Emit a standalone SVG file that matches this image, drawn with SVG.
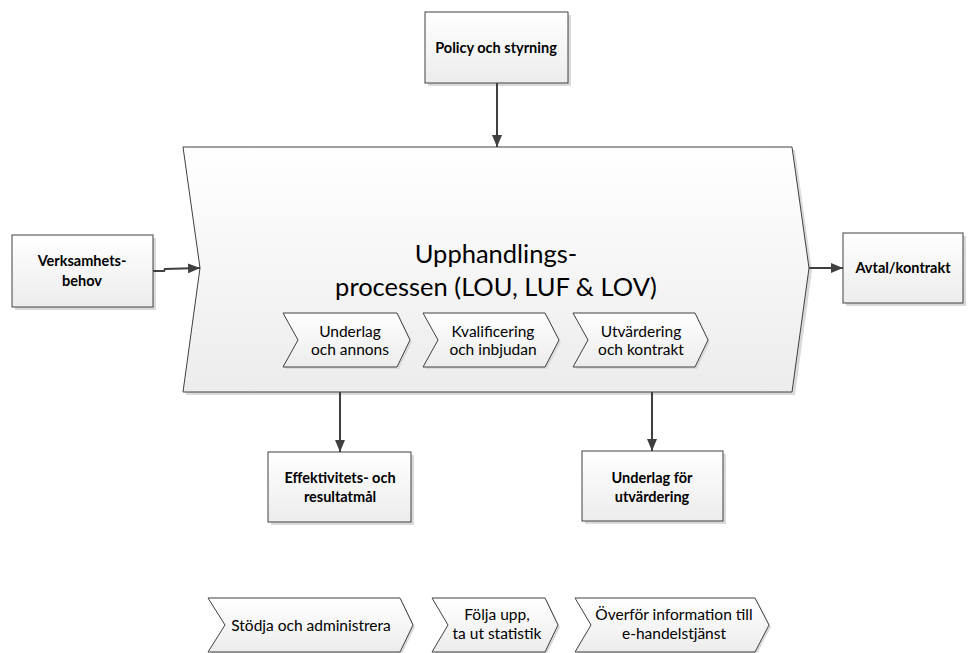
<svg xmlns="http://www.w3.org/2000/svg" width="975" height="653" viewBox="0 0 975 653">
  <defs>
    <linearGradient id="fillGrad" x1="0" y1="0" x2="0" y2="1">
      <stop offset="0" stop-color="#ffffff"/>
      <stop offset="1" stop-color="#ececec"/>
    </linearGradient>
    <marker id="arrow" viewBox="0 0 12 10" refX="12" refY="5" markerWidth="12" markerHeight="10" markerUnits="userSpaceOnUse" orient="auto">
      <path d="M0,0 L12,5 L0,10 z" fill="#404040"/>
    </marker>
  </defs>
  <style>
    .box { fill: url(#fillGrad); stroke: #404040; stroke-width: 1; }
    .shadow { fill: #dadada; stroke: none; }
    .lbl { font-family: Lato, "Liberation Sans", sans-serif; font-weight: bold; font-size: 14.5px; fill: #000; text-anchor: middle; }
    .step { font-family: Lato, "Liberation Sans", sans-serif; font-size: 15.5px; fill: #000; text-anchor: middle; }
    .title { font-family: Lato, "Liberation Sans", sans-serif; font-size: 25.5px; fill: #000; text-anchor: middle; }
    .conn { fill: none; stroke: #404040; stroke-width: 2; marker-end: url(#arrow); }
  </style>
  <rect width="975" height="653" fill="#ffffff"/>

  <!-- main process chevron -->
  <g id="process">
    <path class="shadow" d="M186,150 L795,150 L812,271 L795,395 L186,395 L203,271 Z"/>
    <path class="box" d="M183,147 L792,147 L809,268 L792,392 L183,392 L200,268 Z"/>
    <text class="title" x="496" y="263">Upphandlings-</text>
    <text class="title" x="496" y="296">processen (LOU, LUF &amp; LOV)</text>
  </g>

  <!-- process steps inside the chevron -->
  <g id="step-underlag">
    <path class="shadow" d="M285,315 L399,315 L412,342 L399,369 L285,369 L300,342 Z"/>
    <path class="box" d="M283,313 L397,313 L410,340 L397,367 L283,367 L298,340 Z"/>
    <text class="step" x="350" y="337">Underlag</text>
    <text class="step" x="350" y="355">och annons</text>
  </g>
  <g id="step-kvalificering">
    <path class="shadow" d="M425,315 L547,315 L561,342 L547,369 L425,369 L440,342 Z"/>
    <path class="box" d="M423,313 L545,313 L559,340 L545,367 L423,367 L438,340 Z"/>
    <text class="step" x="493" y="337">Kvalificering</text>
    <text class="step" x="493" y="355">och inbjudan</text>
  </g>
  <g id="step-utvardering">
    <path class="shadow" d="M575,315 L697,315 L710,342 L697,369 L575,369 L590,342 Z"/>
    <path class="box" d="M573,313 L695,313 L708,340 L695,367 L573,367 L588,340 Z"/>
    <text class="step" x="641" y="337">Utvärdering</text>
    <text class="step" x="641" y="355">och kontrakt</text>
  </g>

  <!-- input / output boxes -->
  <g id="policy">
    <rect class="shadow" x="428" y="15" width="143" height="71"/>
    <rect class="box" x="425" y="12" width="143" height="71"/>
    <text class="lbl" x="496" y="53">Policy och styrning</text>
  </g>
  <g id="verksamhetsbehov">
    <rect class="shadow" x="15" y="238" width="141" height="72"/>
    <rect class="box" x="12" y="235" width="141" height="72"/>
    <text class="lbl" x="82" y="266">Verksamhets-</text>
    <text class="lbl" x="82" y="286">behov</text>
  </g>
  <g id="avtal">
    <rect class="shadow" x="846" y="236" width="120" height="70"/>
    <rect class="box" x="843" y="233" width="120" height="70"/>
    <text class="lbl" x="903" y="273">Avtal/kontrakt</text>
  </g>
  <g id="effektivitet">
    <rect class="shadow" x="271" y="455" width="143" height="70"/>
    <rect class="box" x="268" y="452" width="143" height="70"/>
    <text class="lbl" x="340" y="483">Effektivitets- och</text>
    <text class="lbl" x="340" y="502">resultatmål</text>
  </g>
  <g id="underlag-utvardering">
    <rect class="shadow" x="585" y="454" width="141" height="70"/>
    <rect class="box" x="582" y="451" width="141" height="70"/>
    <text class="lbl" x="652" y="483">Underlag för</text>
    <text class="lbl" x="652" y="502">utvärdering</text>
  </g>

  <!-- support activities -->
  <g id="stodja">
    <path class="shadow" d="M210,600 L402,600 L415,627 L402,654 L210,654 L227,627 Z"/>
    <path class="box" d="M208,598 L400,598 L413,625 L400,652 L208,652 L225,625 Z"/>
    <text class="step" x="311" y="631">Stödja och administrera</text>
  </g>
  <g id="folja-upp">
    <path class="shadow" d="M434,600 L547,600 L560,627 L547,654 L434,654 L450,627 Z"/>
    <path class="box" d="M432,598 L545,598 L558,625 L545,652 L432,652 L448,625 Z"/>
    <text class="step" x="497" y="620">Följa upp,</text>
    <text class="step" x="497" y="639">ta ut statistik</text>
  </g>
  <g id="overfor">
    <path class="shadow" d="M577,600 L757,600 L771,627 L757,654 L577,654 L593,627 Z"/>
    <path class="box" d="M575,598 L755,598 L769,625 L755,652 L575,652 L591,625 Z"/>
    <text class="step" x="674" y="620">Överför information till</text>
    <text class="step" x="674" y="639">e-handelstjänst</text>
  </g>

  <!-- connectors -->
  <g id="connectors">
    <path class="conn" d="M497,83 L497,147"/>
    <path class="conn" d="M153,271 L164,271 L165,269 L200,268"/>
    <path class="conn" d="M809,268 L843,268"/>
    <path class="conn" d="M340,392 L340,452"/>
    <path class="conn" d="M652,392 L652,451"/>
  </g>
</svg>
